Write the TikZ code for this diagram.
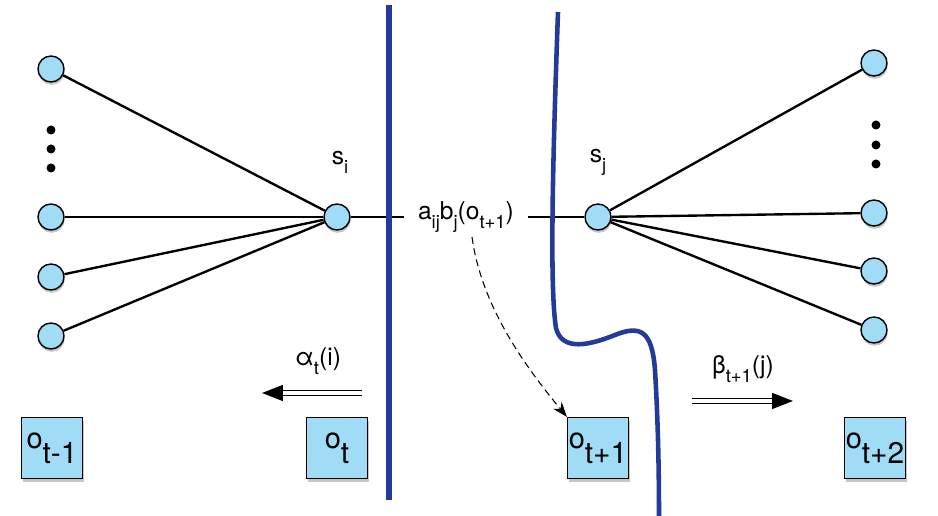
\documentclass[tikz,border=0pt]{standalone}
\usepackage{fontspec}
\setmainfont{TeX Gyre Heros}
\usetikzlibrary{arrows.meta,shadows}

\definecolor{cellblue}{RGB}{160,220,246}
\definecolor{cutblue}{RGB}{36,58,152}

% lowered small text for indices
\newcommand{\idx}[1]{\raisebox{-5pt}{\fontsize{10.5}{10.5}\selectfont #1}}
\newcommand{\bidx}[1]{\raisebox{-8.5pt}{\fontsize{17}{17}\selectfont #1}}

\tikzset{
  state/.style={circle, draw, fill=cellblue, line width=0.8pt, minimum size=0.52cm, inner sep=0pt,
    drop shadow={shadow xshift=0.4pt, shadow yshift=-1.6pt, opacity=0.45}},
  obs/.style={rectangle, draw, fill=cellblue, line width=0.7pt, minimum size=1.22cm, inner sep=0pt,
    font=\fontsize{16.5}{18}\selectfont,
    drop shadow={shadow xshift=0.6pt, shadow yshift=-2pt, opacity=0.45}},
  dotn/.style={circle, fill, minimum size=0.18cm, inner sep=0pt},
  lbl/.style={font=\fontsize{14}{16}\selectfont},
  link/.style={line width=1.35pt},
  flow/.style={double, double distance=2pt, line width=0.9pt, -{Triangle[length=0.42cm,width=0.32cm]}},
  cut/.style={cutblue, line width=2.6pt}
}

\begin{document}
\begin{tikzpicture}[x=0.02cm,y=-0.02cm]
\useasboundingbox (0,0) rectangle (938,516);

% left column of states
\node[state] (l1) at (51,69) {};
\node[dotn] (ld1) at (51,130) {};
\node[dotn] (ld2) at (51,149) {};
\node[dotn] (ld3) at (51,168) {};
\node[state] (l2) at (51,217) {};
\node[state] (l3) at (51,277) {};
\node[state] (l4) at (51,336) {};

% s_i and s_j
\node[state] (si) at (337,217) {};
\node[lbl] at (340,162) {s\idx{i}};
\node[state] (sj) at (598,217) {};
\node[lbl] at (598,162) {s\idx{j}};

% right column of states
\node[state] (r1) at (874,63) {};
\node[dotn] (rd1) at (876,125) {};
\node[dotn] (rd2) at (876,145) {};
\node[dotn] (rd3) at (876,164) {};
\node[state] (r2) at (874,213) {};
\node[state] (r3) at (874,271) {};
\node[state] (r4) at (874,330) {};

\foreach \n in {l1,l2,l3,l4}
  \draw[link] (\n) -- (si);
\foreach \n in {r1,r2,r3,r4}
  \draw[link] (sj) -- (\n);

% transition label
\node[lbl, inner sep=8pt] (trans) at (466,217) {a\idx{ij}b\idx{j}(o\idx{t+1})};
\draw[link] (si) -- (trans);
\draw[link] (trans) -- (sj);

% observations
\node[obs] (otm) at (52,448) {o\bidx{t-1}};
\node[obs] (ot) at (337,448) {o\bidx{t}};
\node[obs] (otp) at (598,448) {o\bidx{t+1}};
\node[obs] (otpp) at (875,448) {o\bidx{t+2}};

\draw[dashed, dash pattern=on 4pt off 2.5pt, line width=0.6pt, -{Stealth[length=0.3cm,width=0.22cm]}]
  (472,237) .. controls (482,310) and (530,372) .. (otp.north west);

% alpha and beta
\coordinate (a0) at (362,393);
\coordinate (a1) at (262,393);
\draw[flow] (a0) -- (a1);
\node[lbl] (alpha) at (318,361) {α\idx{t}(i)};
\coordinate (b0) at (692,401);
\coordinate (b1) at (793,401);
\draw[flow] (b0) -- (b1);
\node[lbl] (beta) at (743,369) {β\idx{t+1}(j)};

% cuts
\draw[cut, line width=3.2pt] (389,5) -- (389,500);
\draw[cut] (558,12) .. controls (552,180) and (550,290) .. (556,328)
  .. controls (562,352) and (590,345) .. (615,335)
  .. controls (640,325) and (652,330) .. (655,370)
  .. controls (658,420) and (659,470) .. (659,516);

\end{tikzpicture}
\end{document}
